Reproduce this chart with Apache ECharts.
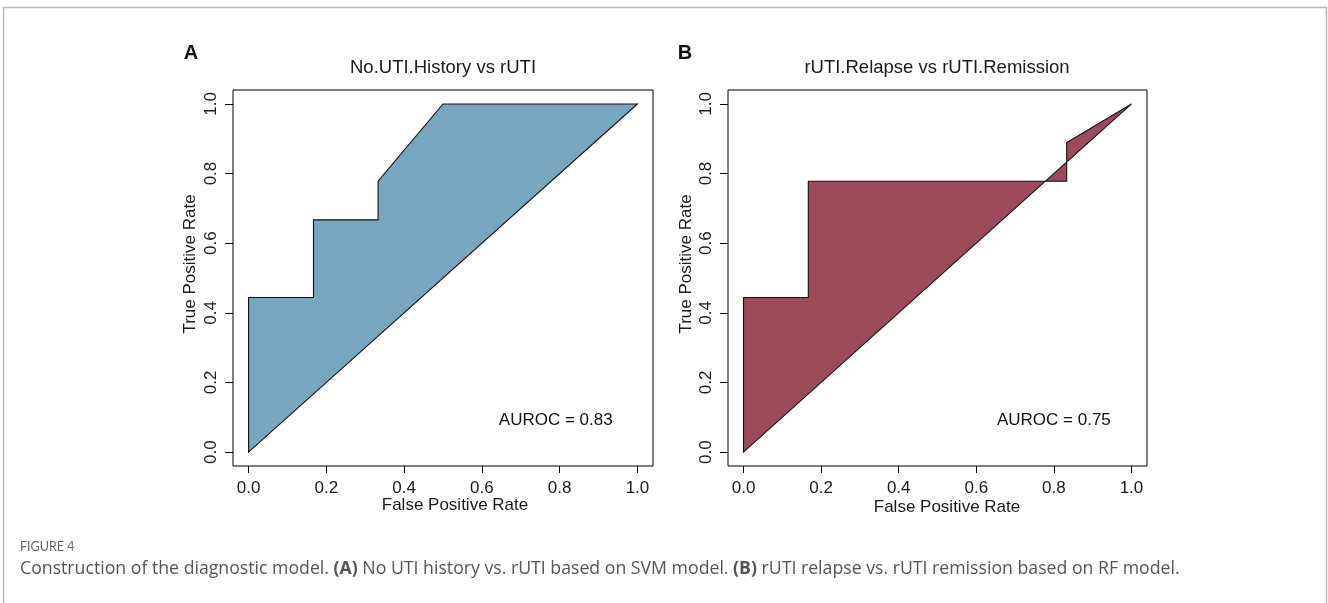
<!DOCTYPE html>
<html>
<head>
<meta charset="utf-8">
<script src="https://cdn.jsdelivr.net/npm/echarts@6/dist/echarts.min.js"></script>
<style>
html,body{margin:0;padding:0;background:#fff;}
#c{width:1328px;height:603px;}
</style>
</head>
<body>
<div id="c"></div>
<script>
// ---- data ----
const fprA = [0, 0, 0.167, 0.167, 0.333, 0.333, 0.5, 1];
const tprA = [0, 0.444, 0.444, 0.667, 0.667, 0.778, 1, 1];
const fprB = [0, 0, 0.167, 0.167, 0.833, 0.833, 1];
const tprB = [0, 0.444, 0.444, 0.778, 0.778, 0.889, 1];
const tickValues = [0, 0.2, 0.4, 0.6, 0.8, 1.0];
const titleA = 'No.UTI.History vs rUTI';
const titleB = 'rUTI.Relapse vs rUTI.Remission';
const aurocA = 'AUROC = 0.83';
const aurocB = 'AUROC = 0.75';
const aurocPosA = [0.79, 0.092];
const aurocPosB = [0.80, 0.092];
const captionHead = 'FIGURE 4';

const FONT = '"Liberation Sans", Arial, Helvetica, sans-serif';
const CAPFONT = '"Open Sans", Lato, sans-serif';
const chart = echarts.init(document.getElementById('c'));

function pts(xs, ys) { return xs.map((x, i) => [x, ys[i]]); }

function xAx(gi) {
  return {
    type: 'value', gridIndex: gi, min: -0.04, max: 1.04,
    splitLine: {show: false},
    axisLine: {show: false, onZero: false},
    axisTick: {show: true, customValues: tickValues, length: 7, lineStyle: {color: '#000', width: 1}},
    axisLabel: {show: true, customValues: tickValues, formatter: v => v.toFixed(1),
      fontSize: 17, fontFamily: FONT, color: '#1a1a1a', margin: 14}
  };
}
function yAx(gi) {
  return {
    type: 'value', gridIndex: gi, min: -0.04, max: 1.04,
    splitLine: {show: false},
    axisLine: {show: false, onZero: false},
    axisTick: {show: true, customValues: tickValues, length: 8, lineStyle: {color: '#000', width: 1}},
    axisLabel: {show: true, customValues: tickValues, formatter: v => v.toFixed(1),
      fontSize: 17, fontFamily: FONT, color: '#1a1a1a', rotate: 90, margin: 13}
  };
}
function poly(gi, data, fill) {
  return {
    type: 'custom', xAxisIndex: gi, yAxisIndex: gi,
    data: data,
    renderItem: function (params, api) {
      if (params.dataIndex !== 0) return null;
      const p = data.map(d => api.coord(d));
      return {type: 'polygon', shape: {points: p},
        style: {fill: fill, stroke: '#111', lineWidth: 1.1}};
    },
    silent: true, animation: false
  };
}
function auroc(gi, pos, text) {
  return {
    type: 'scatter', xAxisIndex: gi, yAxisIndex: gi, symbolSize: 0,
    data: [pos], silent: true, animation: false,
    itemStyle: {opacity: 1},
    label: {show: true, position: 'inside', formatter: text, fontSize: 17,
      fontFamily: FONT, color: '#111', textBorderWidth: 0, opacity: 1}
  };
}

chart.setOption({
  backgroundColor: '#fff',
  animation: false,
  grid: [
    {left: 233, top: 90, width: 420, height: 376, show: true, borderColor: '#000', borderWidth: 1, backgroundColor: 'transparent'},
    {left: 728, top: 90, width: 419, height: 376, show: true, borderColor: '#000', borderWidth: 1, backgroundColor: 'transparent'}
  ],
  xAxis: [xAx(0), xAx(1)],
  yAxis: [yAx(0), yAx(1)],
  series: [
    poly(0, pts(fprA, tprA), '#78A5C0'),
    poly(1, pts(fprB, tprB), '#9C4A5A'),
    auroc(0, aurocPosA, aurocA),
    auroc(1, aurocPosB, aurocB)
  ],
  graphic: [
    {type: 'rect', shape: {x: 3.5, y: 7.5, width: 1323, height: 620}, style: {fill: 'none', stroke: '#b8b8b8', lineWidth: 1.5}, silent: true},
    {type: 'text', x: 191, y: 53, style: {text: 'A', fontSize: 20, fontWeight: 'bold', fontFamily: FONT, fill: '#111', align: 'center', verticalAlign: 'middle'}},
    {type: 'text', x: 685, y: 53, style: {text: 'B', fontSize: 20, fontWeight: 'bold', fontFamily: FONT, fill: '#111', align: 'center', verticalAlign: 'middle'}},
    {type: 'text', x: 443, y: 68, style: {text: titleA, fontSize: 18.5, fontFamily: FONT, fill: '#1a1a1a', align: 'center', verticalAlign: 'middle'}},
    {type: 'text', x: 937, y: 68, style: {text: titleB, fontSize: 18.5, fontFamily: FONT, fill: '#1a1a1a', align: 'center', verticalAlign: 'middle'}},
    {type: 'text', x: 455, y: 505, style: {text: 'False Positive Rate', fontSize: 17, fontFamily: FONT, fill: '#1a1a1a', align: 'center', verticalAlign: 'middle'}},
    {type: 'text', x: 947, y: 507, style: {text: 'False Positive Rate', fontSize: 17, fontFamily: FONT, fill: '#1a1a1a', align: 'center', verticalAlign: 'middle'}},
    {type: 'text', x: 190, y: 264, rotation: Math.PI / 2, style: {text: 'True Positive Rate', fontSize: 17, fontFamily: FONT, fill: '#1a1a1a', align: 'center', verticalAlign: 'middle'}},
    {type: 'text', x: 686, y: 264, rotation: Math.PI / 2, style: {text: 'True Positive Rate', fontSize: 17, fontFamily: FONT, fill: '#1a1a1a', align: 'center', verticalAlign: 'middle'}},
    {type: 'text', x: 20, y: 547, style: {text: captionHead, fontSize: 12.5, fontFamily: 'Lato, "Open Sans", sans-serif', fill: '#666', align: 'left', verticalAlign: 'middle'}},
    {type: 'text', x: 20, y: 569, style: {
      rich: {n: {fontSize: 17.7, fontFamily: CAPFONT, fill: '#555'},
             b: {fontSize: 17.7, fontFamily: CAPFONT, fill: '#555', fontWeight: 'bold'}},
      text: '{n|Construction of the diagnostic model. }{b|(A)}{n| No UTI history vs. rUTI based on SVM model. }{b|(B)}{n| rUTI relapse vs. rUTI remission based on RF model.}',
      align: 'left', verticalAlign: 'middle'}}
  ]
});
</script>
</body>
</html>
